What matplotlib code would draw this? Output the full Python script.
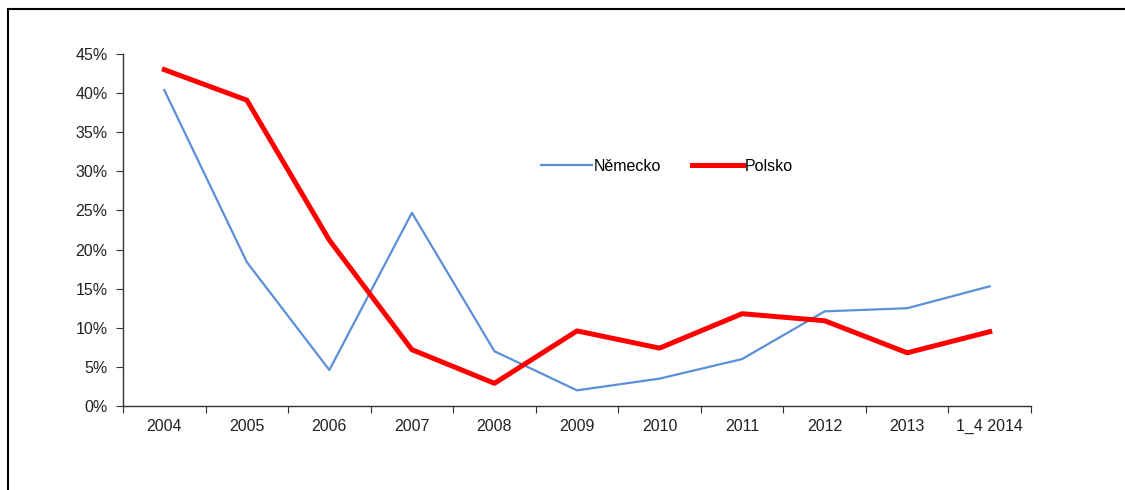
import numpy as np
import matplotlib
matplotlib.use("Agg")
import matplotlib.pyplot as plt
from matplotlib.lines import Line2D
from matplotlib.ticker import FuncFormatter

plt.rcParams['font.family'] = ['Liberation Sans', 'DejaVu Sans']

years = ['2004', '2005', '2006', '2007', '2008', '2009', '2010', '2011', '2012', '2013', '1_4 2014']
nemecko = [40.4, 18.4, 4.6, 24.7, 7.0, 2.0, 3.5, 6.0, 12.1, 12.5, 15.3]
polsko = [43.0, 39.1, 21.2, 7.2, 2.9, 9.6, 7.4, 11.8, 10.9, 6.8, 9.5]

W, H = 1125, 490
fig = plt.figure(figsize=(W / 100, H / 100), dpi=100)
fig.patch.set_facecolor('white')

# outer frame (only top and left edges are visible in the picture)
fig.add_artist(Line2D([8 / W, 1], [1 - 9 / H, 1 - 9 / H], color='black', lw=1.5))
fig.add_artist(Line2D([8 / W, 8 / W], [0, 1 - 9 / H], color='black', lw=1.5))

ax = fig.add_axes([123 / W, 84 / H, (1031 - 123) / W, (406 - 54) / H])
x = np.arange(len(years))
ax.plot(x, np.array(nemecko) / 100, color='#5B8FD9', lw=1.6, label='Německo')
ax.plot(x, np.array(polsko) / 100, color='#FF0000', lw=3.6, label='Polsko')

ax.set_xlim(-0.5, len(years) - 0.5)
ax.set_ylim(0, 0.45)
ax.set_yticks(np.arange(0, 0.451, 0.05))
ax.yaxis.set_major_formatter(FuncFormatter(lambda v, p: f'{v * 100:.0f}%'))

ax.set_xticks(np.arange(-0.5, len(years), 1.0))
ax.set_xticklabels([])
ax.set_xticks(x, minor=True)
ax.set_xticklabels(years, minor=True)
ax.tick_params(axis='x', which='minor', length=0, pad=9)
ax.tick_params(axis='x', which='major', length=5, direction='out', color='#333333')
ax.tick_params(axis='y', length=5, direction='out', color='#333333', pad=6)
ax.tick_params(which='both', labelsize=11.5, labelcolor='#222222')

for s in ['top', 'right']:
    ax.spines[s].set_visible(False)
for s in ['left', 'bottom']:
    ax.spines[s].set_color('#333333')
    ax.spines[s].set_linewidth(1.0)

ax.legend(loc='center', bbox_to_anchor=(0.599, 0.681), ncol=2, frameon=False,
          fontsize=11.5, handlelength=3.2, handletextpad=0.12, columnspacing=1.9)

fig.savefig('out.png', dpi=100, facecolor='white')
